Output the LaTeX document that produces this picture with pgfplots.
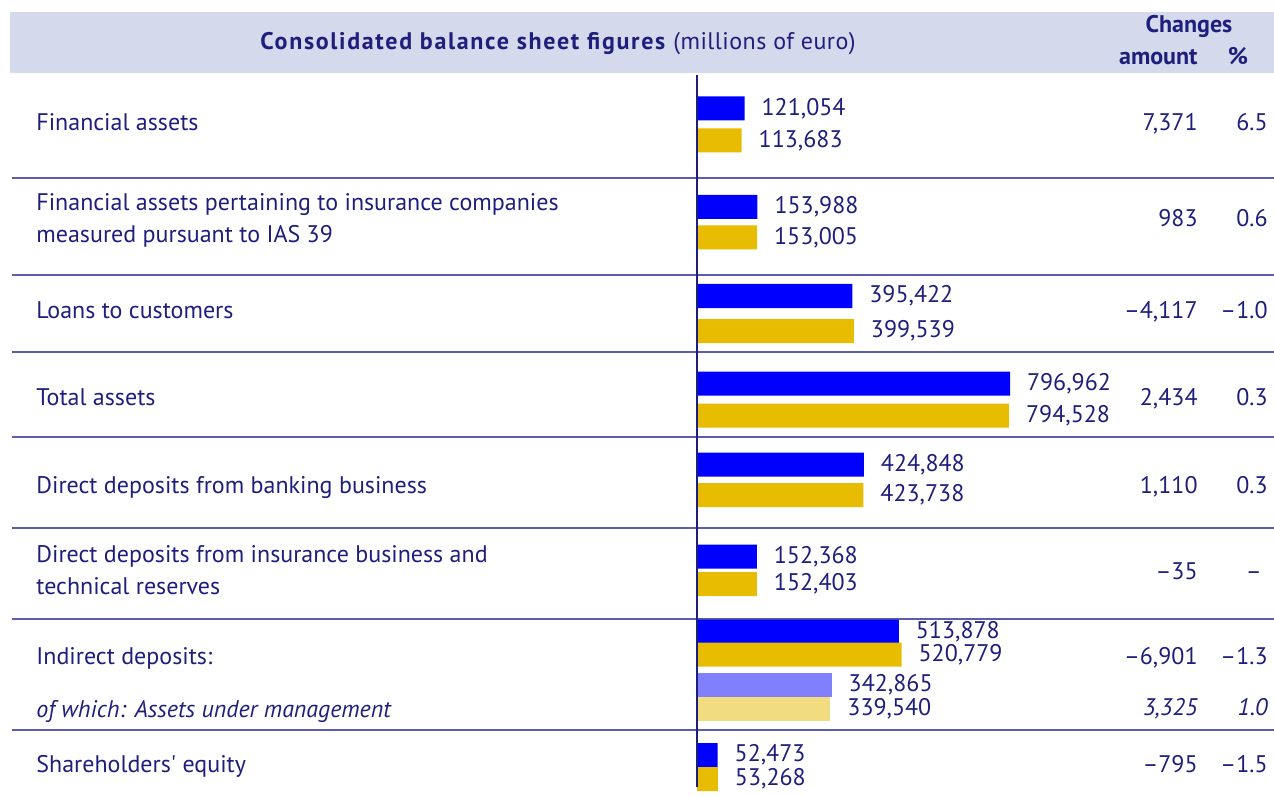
\documentclass[border=0pt]{standalone}
\usepackage{pgfplots}
\pgfplotsset{compat=1.18}
\usepackage{fontspec}
\setmainfont{PT Sans}
\definecolor{navy}{HTML}{1E1E7C}
\definecolor{hdr}{HTML}{D5D9EC}
\definecolor{sep}{HTML}{5C5CAE}
\definecolor{bblue}{HTML}{0000FF}
\definecolor{bgold}{HTML}{E8BC00}
\definecolor{lblue}{HTML}{8080FF}
\definecolor{lgold}{HTML}{F2DC80}
\newcommand\fs{\fontsize{12}{14}\selectfont}
\begin{document}
\begin{tikzpicture}
\begin{scope}[x=0.5pt,y=-0.5pt]
\useasboundingbox (0,0) rectangle (1274,787);
\fill[hdr] (10,12) rectangle (1274,73);
\node[anchor=mid, text=navy, inner sep=0] at (558,45) {\fs{\addfontfeature{LetterSpace=7}\textbf{Consolidated balance sheet figures}} {\addfontfeature{LetterSpace=2}(millions of euro)}};
\node[anchor=mid, text=navy, inner sep=0] at (1189,28) {\fs\textbf{Changes}};
\node[anchor=mid east, text=navy, inner sep=0] at (1198,60) {\fs\textbf{amount}};
\node[anchor=mid, text=navy, inner sep=0] at (1238,60) {\fs\textbf{\%}};
% separators
\foreach \yy in {178,275,352,437,528,619,730}
  \draw[sep, line width=1pt] (12,\yy) -- (1274,\yy);
% left labels
\begin{scope}[every node/.style={anchor=mid west, text=navy, inner sep=0, font=\fs}]
\node at (36,126) {Financial assets};
\node at (36,206) {Financial assets pertaining to insurance companies};
\node at (36,238) {measured pursuant to IAS 39};
\node at (36,313) {Loans to customers};
\node at (36,400) {Total assets};
\node at (36,488) {Direct deposits from banking business};
\node at (36,557) {Direct deposits from insurance business and};
\node at (36,589) {technical reserves};
\node at (36,659) {Indirect deposits:};
\node at (36,712) {\itshape of which: Assets under management};
\node at (36,767) {Shareholders\textquotesingle\ equity};
\end{scope}
% change columns
\begin{scope}[every node/.style={anchor=mid east, text=navy, inner sep=0, font=\fs}]
\node at (1198,126) {7,371};   \node at (1268,126) {6.5};
\node at (1198,222) {983};     \node at (1268,222) {0.6};
\node at (1198,313) {–4,117};  \node at (1268,313) {–1.0};
\node at (1198,400) {2,434};   \node at (1268,400) {0.3};
\node at (1198,488) {1,110};   \node at (1268,488) {0.3};
\node at (1198,574) {–35};     \node at (1262,574) {–};
\node at (1198,659) {–6,901};  \node at (1268,659) {–1.3};
\node at (1198,710) {\itshape 3,325}; \node at (1268,710) {\itshape 1.0};
\node at (1198,767) {–795};    \node at (1268,767) {–1.5};
\end{scope}
\end{scope}
\begin{axis}[
  at={(348.5pt,-393.5pt)}, anchor=south west,
  width=288.5pt, height=393.5pt, scale only axis,
  xmin=0, xmax=1469143, ymin=0, ymax=787,
  hide axis, clip=false,
  xbar, bar width=24, bar shift=0pt,
  /pgf/number format/assume math mode=true,
  /pgf/number format/.cd, fixed, precision=0, 1000 sep={,},
  /pgfplots/.cd,
  nodes near coords,
  point meta=x,
  every node near coord/.append style={anchor=west, text=navy, font=\fs, xshift=5pt},
]
\addplot[draw=none, fill=bblue] coordinates {
 (121054,678.5) (153988,580) (395422,491) (796962,403.5)
 (424848,322.5) (152368,230.5) (513878,155.5) (52473,32)};
\addplot[draw=none, fill=bgold] coordinates {
 (113683,646.5) (153005,549.5) (399539,456) (794528,371.5)
 (423738,292) (152403,203) (520779,132.5) (53268,8)};
\addplot[draw=none, fill=lblue] coordinates {(342865,102)};
\addplot[draw=none, fill=lgold] coordinates {(339540,78.5)};
\end{axis}
\draw[navy, line width=0.8pt] (348.5pt,-37.5pt) -- (348.5pt,-393.5pt);
\end{tikzpicture}
\end{document}
